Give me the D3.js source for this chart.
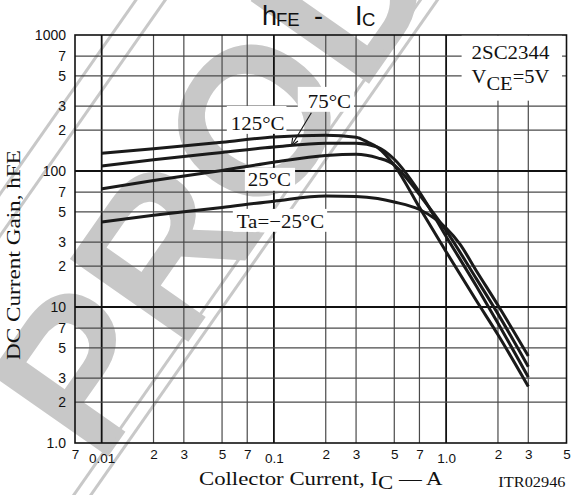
<!DOCTYPE html>
<html><head><meta charset="utf-8">
<script src="https://cdn.jsdelivr.net/npm/d3@7"></script>
<style>html,body{margin:0;padding:0;background:#fff;} svg{display:block;}</style>
</head><body>
<svg id="chart" width="576" height="495"></svg>
<script>
// ---- data (collector current in A, DC current gain hFE) ----
const seriesNames = ["125°C", "75°C", "25°C", "Ta=−25°C"];
const ic125  = [0.01, 0.02, 0.05, 0.1, 0.2, 0.3, 0.35, 0.4, 0.5, 0.7, 1.0, 1.5, 2.0, 3.0];
const hfe125 = [135, 146, 163, 178, 183, 177, 163, 149, 110, 54, 25.5, 11.1, 6.25, 2.6];
const ic75   = [0.01, 0.02, 0.05, 0.1, 0.2, 0.3, 0.4, 0.5, 0.7, 1.0, 1.5, 2.0, 3.0];
const hfe75  = [109, 121, 137, 150, 160, 160, 150, 122, 70, 33, 14.2, 7.6, 3.05];
const ic25   = [0.01, 0.02, 0.05, 0.1, 0.2, 0.3, 0.4, 0.5, 0.6, 0.7, 1.0, 1.5, 2.0, 3.0];
const hfe25  = [74, 85, 101, 116, 130, 133, 125, 111, 86, 67, 36.4, 16.1, 8.9, 3.64];
const icM25  = [0.01, 0.02, 0.05, 0.1, 0.2, 0.3, 0.4, 0.5, 0.7, 0.85, 1.0, 1.2, 1.5, 2.0, 3.0];
const hfeM25 = [42.2, 47.2, 54, 60, 65.5, 65, 62.8, 59.2, 52.1, 45.1, 38.1, 29.1, 18.4, 10.3, 4.36];

const xTicks = [0.007, 0.01, 0.02, 0.03, 0.05, 0.07, 0.1, 0.2, 0.3, 0.5, 0.7, 1, 2, 3, 5];
const xTickLabels = ["7", "0.01", "2", "3", "5", "7", "0.1", "2", "3", "5", "7", "1.0", "2", "3", "5"];
const yTicks = [1, 2, 3, 5, 7, 10, 20, 30, 50, 70, 100, 200, 300, 500, 700, 1000];
const yTickLabels = ["1.0", "2", "3", "5", "7", "10", "2", "3", "5", "7", "100", "2", "3", "5", "7", "1000"];

// annotation anchors in data units
const labelAnchorsI = [0.0562, 0.1573, 0.0706, 0.0609];
const labelAnchorsH = [200, 290.5, 77.6, 38.1];
const arrowFrom = [0.165, 268];
const arrowTo = [0.1265, 153.5];
const noteAnchor = [1.406, 666, 443.6];

// ---- drawing ----
const SERIF = "'Liberation Serif','Times New Roman',serif";
const SANS = "'Liberation Sans',Arial,Helvetica,sans-serif";
const svg = d3.select("#chart");
const x = d3.scaleLog().domain([0.007, 5]).range([75, 566.5]);
const y = d3.scaleLog().domain([1, 1000]).range([443, 35]);

// watermark (stamp)
const wm = svg.append("g").attr("transform", "translate(100,468) rotate(-55)");
wm.append("text").attr("x", 0).attr("y", 0)
  .attr("font-family", SANS).attr("font-weight", "bold").attr("font-size", 210)
  .attr("fill", "#c8c8c8").text("PROD");
[-239, -215, -6, 8].forEach(o => wm.append("line")
  .attr("x1", -800).attr("x2", 1200).attr("y1", o).attr("y2", o)
  .attr("stroke", "#c8c8c8").attr("stroke-width", 3));

// grid
const isMajor = d => Math.abs(Math.log10(d) - Math.round(Math.log10(d))) < 1e-9;
const grid = svg.append("g");
xTicks.slice(1, -1).forEach(d => grid.append("line")
  .attr("x1", x(d)).attr("x2", x(d)).attr("y1", y(1)).attr("y2", y(1000))
  .attr("stroke", isMajor(d) ? "#111" : "#4a4a4a").attr("stroke-width", isMajor(d) ? 1.8 : 1.2));
yTicks.slice(1, -1).forEach(d => grid.append("line")
  .attr("y1", y(d)).attr("y2", y(d)).attr("x1", x(0.007)).attr("x2", x(5))
  .attr("stroke", isMajor(d) ? "#111" : "#4a4a4a").attr("stroke-width", isMajor(d) ? 1.8 : 1.2));

// axes labels
const ya = svg.append("g").attr("transform", `translate(${x(0.007)},0)`)
  .call(d3.axisLeft(y).tickValues(yTicks).tickFormat((d, i) => yTickLabels[i]).tickSize(0).tickPadding(9));
ya.select(".domain").remove();
ya.selectAll("text").attr("font-family", SANS).attr("font-size", 14).attr("fill", "#111");
const xa = svg.append("g").attr("transform", `translate(0,${y(1)})`)
  .call(d3.axisBottom(x).tickValues(xTicks).tickFormat((d, i) => xTickLabels[i]).tickSize(0).tickPadding(6));
xa.select(".domain").remove();
xa.selectAll("text").attr("font-family", SANS).attr("font-size", 13.5).attr("fill", "#111")
  .attr("dy", (d, i) => (xTickLabels[i].length > 1 ? "1.0em" : "0.71em"));

// border
svg.append("rect").attr("x", x(0.007)).attr("y", y(1000))
  .attr("width", x(5) - x(0.007)).attr("height", y(1) - y(1000))
  .attr("fill", "none").attr("stroke", "#111").attr("stroke-width", 1.6);

// labels helper
function label(parent, parts, px, py, k, size, anchor) {
  const g = parent.append("g").attr("transform", `translate(${px},${py})`);
  const t = g.append("text").attr("transform", `scale(${k},1)`)
    .attr("font-family", SERIF).attr("font-size", size).attr("text-anchor", anchor || "start").attr("fill", "#111");
  parts.forEach(p => t.append("tspan").attr("dy", p.dy || 0).attr("font-size", p.size || null).text(p.t));
  return {g, t, k};
}
function boxBehind(lb, pad) {
  const bb = lb.t.node().getBBox();
  lb.g.insert("rect", "text").attr("x", bb.x * lb.k - pad[3]).attr("y", bb.y - pad[0])
    .attr("width", bb.width * lb.k + pad[1] + pad[3]).attr("height", bb.height + pad[0] + pad[2])
    .attr("fill", "#fff");
}

const ann = svg.append("g");
const pads = [[7, 2, 0, 4], [4, 3, 0, 10], [1, 4, 1, 3], [2, 3, 0, 4]];
seriesNames.forEach((s, i) => {
  const lb = label(ann, [{t: s}], x(labelAnchorsI[i]), y(labelAnchorsH[i]), 1.1, 19);
  boxBehind(lb, pads[i]);
});
// type / condition note
const noteG = ann.append("g");
label(noteG, [{t: "2SC2344"}], x(noteAnchor[0]), y(noteAnchor[1]), 1.1, 19);
label(noteG, [{t: "V"}, {t: "CE", dy: 7}, {t: "=5V", dy: -7}], x(noteAnchor[0]), y(noteAnchor[2]), 1.08, 19);
{
  const b = noteG.node().getBBox();
  noteG.insert("rect", "g").attr("x", b.x - 10).attr("y", y(1000) + 0.8).attr("width", b.width + 22)
    .attr("height", b.y + b.height + 6 - y(1000)).attr("fill", "#fff");
}

// arrow to the 75°C curve
const ax1 = x(arrowFrom[0]), ay1 = y(arrowFrom[1]), ax2 = x(arrowTo[0]), ay2 = y(arrowTo[1]);
ann.append("line").attr("x1", ax1).attr("y1", ay1).attr("x2", ax2).attr("y2", ay2)
  .attr("stroke", "#111").attr("stroke-width", 1.1);
const ang = Math.atan2(ay1 - ay2, ax1 - ax2);
[-0.4, 0.4].forEach(da => ann.append("line").attr("x1", ax2).attr("y1", ay2)
  .attr("x2", ax2 + 8 * Math.cos(ang + da)).attr("y2", ay2 + 8 * Math.sin(ang + da))
  .attr("stroke", "#111").attr("stroke-width", 1.1));

// curves
const line = d3.line().x(d => x(d[0])).y(d => y(d[1])).curve(d3.curveMonotoneX);
const series = [[ic125, hfe125], [ic75, hfe75], [ic25, hfe25], [icM25, hfeM25]];
svg.append("g").selectAll("path").data(series).join("path")
  .attr("d", s => line(s[0].map((v, i) => [v, s[1][i]])))
  .attr("fill", "none").attr("stroke", "#1a1a1a").attr("stroke-width", 3).attr("stroke-linecap", "butt");

// title
const title = svg.append("text").attr("font-family", SANS).attr("fill", "#111");
title.append("tspan").attr("x", 262).attr("y", 25).attr("font-size", 27).text("h");
title.append("tspan").attr("x", 276).attr("y", 26).attr("font-size", 18.5).text("FE");
title.append("tspan").attr("x", 314).attr("y", 25).attr("font-size", 27).text("-");
title.append("tspan").attr("x", 355).attr("y", 25).attr("font-size", 27).text("I");
title.append("tspan").attr("x", 362).attr("y", 26).attr("font-size", 18.5).text("C");

// axis titles
label(svg, [{t: "Collector Current, I"}, {t: "C", dy: 4}, {t: " — A", dy: -4}],
  (x(0.007) + x(5)) / 2, 485, 1.2, 19, "middle");
const ytG = svg.append("g").attr("transform", "translate(20,255) rotate(-90)");
ytG.append("text").attr("transform", "scale(1.22,1)").attr("text-anchor", "middle")
  .attr("font-family", SERIF).attr("font-size", 19).attr("fill", "#111").text("DC Current Gain, hFE");
label(svg, [{t: "ITR02946"}], x(5) - 1, 487, 1.09, 15, "end");
</script>
</body></html>
